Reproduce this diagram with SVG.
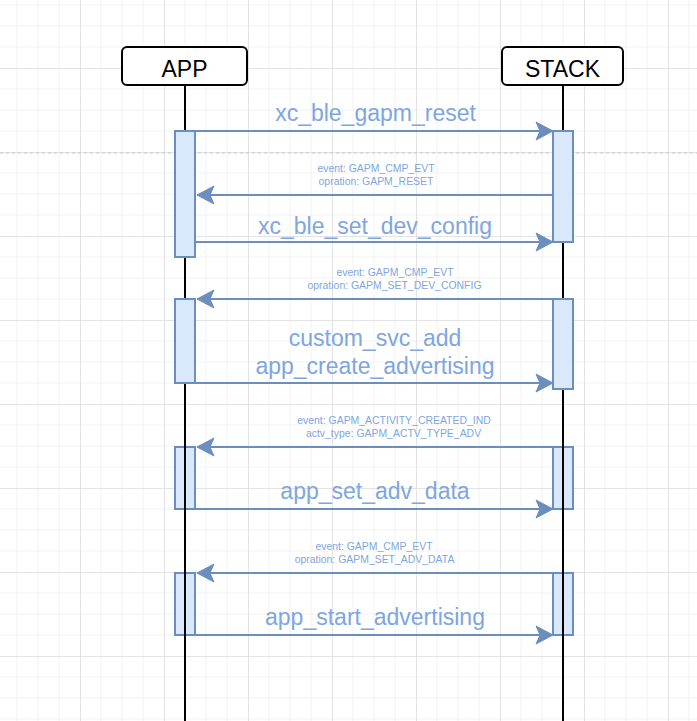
<svg xmlns="http://www.w3.org/2000/svg" width="697" height="721" viewBox="0 0 697 721">
<style>
.node{fill:#ffffff;stroke:#000000;stroke-width:2}
.nt{font-family:"Liberation Sans",Arial,sans-serif;font-size:23px;fill:#000000;text-anchor:middle}
.life{stroke:#000000;stroke-width:2;fill:none}
.act{fill:#dae8fc;stroke:#6c8ebf;stroke-width:2}
.msg{stroke:#6c8ebf;stroke-width:2;fill:none}
.big{font-family:"Liberation Sans",Arial,sans-serif;font-size:23px;fill:#7ea6e0;text-anchor:middle}
.sm{font-family:"Liberation Sans",Arial,sans-serif;font-size:10.45px;fill:#7ea6e0;text-anchor:middle}
</style>
<defs>
<pattern id="grid" patternUnits="userSpaceOnUse" x="80" y="68" width="84" height="84">
<path d="M21 0V84M42 0V84M63 0V84M0 21H84M0 42H84M0 63H84" stroke="#f2f2f2" stroke-width="1" fill="none"/>
<path d="M0.5 0V84M0 0.5H84" stroke="#e3e3e3" stroke-width="1" fill="none"/>
</pattern>
<marker id="ah" markerUnits="userSpaceOnUse" markerWidth="20" markerHeight="20" viewBox="0 0 20 20" refX="18" refY="10" orient="auto">
<path d="M1 1L18 10L1 19L5 10Z" fill="#6c8ebf" stroke="#6c8ebf" stroke-width="1"/>
</marker>
</defs>
<rect width="697" height="721" fill="#ffffff"/>
<rect width="697" height="721" fill="url(#grid)"/>
<line x1="0" y1="153" x2="697" y2="153" stroke="#c8c8c8" stroke-width="1" stroke-dasharray="3 3"/>
<g id="app">
<line class="life" x1="185" y1="85" x2="185" y2="721"/>
<rect class="node" x="122" y="47" width="125" height="38" rx="5"/>
<text class="nt" x="184.5" y="76.5">APP</text>
</g>
<g id="stack">
<line class="life" x1="563" y1="85" x2="563" y2="721"/>
<rect class="node" x="502" y="47" width="121" height="38" rx="5"/>
<text class="nt" x="562.5" y="76.5">STACK</text>
</g>
<g id="activations">
<rect class="act" x="175" y="131" width="20" height="126"/>
<rect class="act" x="553" y="131" width="20" height="111"/>
<rect class="act" x="175" y="299" width="20" height="84"/>
<rect class="act" x="553" y="299" width="20" height="90"/>
<rect class="act" x="175" y="447" width="20" height="62"/>
<rect class="act" x="553" y="447" width="20" height="62"/>
<rect class="act" x="175" y="573" width="20" height="62"/>
<rect class="act" x="553" y="573" width="20" height="62"/>
</g>
<g id="lifeline-overlay">
<line class="life" x1="185" y1="436" x2="185" y2="721"/>
<line class="life" x1="563" y1="436" x2="563" y2="721"/>
</g>
<g id="connectors">
<line class="msg" x1="195" y1="131" x2="553" y2="131" marker-end="url(#ah)"/>
<line class="msg" x1="553" y1="195" x2="197" y2="195" marker-end="url(#ah)"/>
<line class="msg" x1="195" y1="242" x2="553" y2="242" marker-end="url(#ah)"/>
<line class="msg" x1="553" y1="299" x2="197" y2="299" marker-end="url(#ah)"/>
<line class="msg" x1="195" y1="383" x2="553" y2="383" marker-end="url(#ah)"/>
<line class="msg" x1="553" y1="447" x2="197" y2="447" marker-end="url(#ah)"/>
<line class="msg" x1="195" y1="509" x2="553" y2="509" marker-end="url(#ah)"/>
<line class="msg" x1="553" y1="573" x2="197" y2="573" marker-end="url(#ah)"/>
<line class="msg" x1="195" y1="635" x2="553" y2="635" marker-end="url(#ah)"/>
</g>
<g id="labels">
<text class="big" x="375.5" y="121">xc_ble_gapm_reset</text>
<text class="sm" x="376" y="172">event: GAPM_CMP_EVT</text>
<text class="sm" x="376" y="185">opration: GAPM_RESET</text>
<text class="big" x="375" y="234">xc_ble_set_dev_config</text>
<text class="sm" x="395" y="276">event: GAPM_CMP_EVT</text>
<text class="sm" x="394.5" y="289">opration: GAPM_SET_DEV_CONFIG</text>
<text class="big" x="375" y="346">custom_svc_add</text>
<text class="big" x="375" y="374">app_create_advertising</text>
<text class="sm" x="394" y="424">event: GAPM_ACTIVITY_CREATED_IND</text>
<text class="sm" x="393.5" y="437">actv_type: GAPM_ACTV_TYPE_ADV</text>
<text class="big" x="375" y="499">app_set_adv_data</text>
<text class="sm" x="374" y="550">event: GAPM_CMP_EVT</text>
<text class="sm" x="374.5" y="563">opration: GAPM_SET_ADV_DATA</text>
<text class="big" x="375" y="625">app_start_advertising</text>
</g>
</svg>
